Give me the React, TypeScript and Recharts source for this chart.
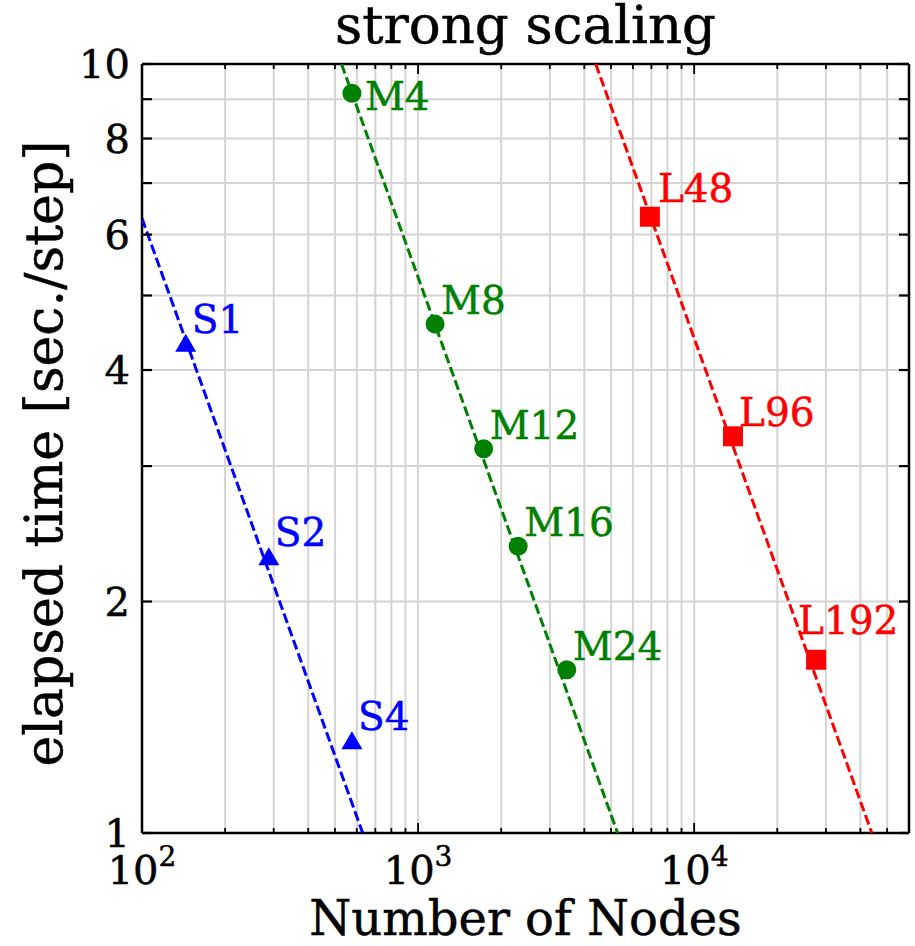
import React from 'react';
import { ScatterChart, Scatter, XAxis, YAxis, CartesianGrid, Label } from 'recharts';

// Measured runs: node count and elapsed seconds per step
const smallNames = ['S1', 'S2', 'S4'];
const smallNodes = [144, 288, 576];
const smallTimes = [4.34, 2.29, 1.32];

const mediumNames = ['M4', 'M8', 'M12', 'M16', 'M24'];
const mediumNodes = [576, 1152, 1728, 2304, 3456];
const mediumTimes = [9.16, 4.59, 3.16, 2.36, 1.63];

const largeNames = ['L48', 'L96', 'L192'];
const largeNodes = [6912, 13824, 27648];
const largeTimes = [6.33, 3.28, 1.68];

// Ideal scaling lines (end points)
const smallIdealNodes = [100, 630];
const smallIdealTimes = [6.3, 1];
const mediumIdealNodes = [528, 5280];
const mediumIdealTimes = [10, 1];
const largeIdealNodes = [4400, 44000];
const largeIdealTimes = [10, 1];

// Axis ticks
const xTicks = [
  100, 200, 300, 400, 500, 600, 700, 800, 900,
  1000, 2000, 3000, 4000, 5000, 6000, 7000, 8000, 9000,
  10000, 20000, 30000, 40000, 50000,
];
const xMajorTicks = [100, 1000, 10000];
const xMajorExponents = ['2', '3', '4'];
const yTicks = [1, 2, 3, 4, 5, 6, 7, 8, 9, 10];
const yLabelledTicks = [1, 2, 4, 6, 8, 10];

const BLUE = '#0000ff';
const GREEN = '#008000';
const RED = '#ff0000';
const FONT = '"DejaVu Serif", serif';

// label placement relative to the marker centre (text origin)
const labelOffset: Record<string, [number, number]> = {
  M4: [13, 17],
  L48: [8, -15],
  L192: [-18, -26],
};
const defaultOffset: [number, number] = [6, -10];

const toPoints = (xs: number[], ys: number[], names?: string[]) =>
  xs.map((x, i) => ({ x, y: ys[i], name: names ? names[i] : '' }));

const makeShape = (kind: 'triangle' | 'circle' | 'square', color: string) => (props: any) => {
  const { cx, cy, payload } = props;
  const [dx, dy] = labelOffset[payload.name] || defaultOffset;
  let marker;
  if (kind === 'triangle') {
    marker = <polygon points={`${cx},${cy - 9} ${cx + 10.5},${cy + 9} ${cx - 10.5},${cy + 9}`} fill={color} />;
  } else if (kind === 'circle') {
    marker = <circle cx={cx} cy={cy} r={9.5} fill={color} />;
  } else {
    marker = <rect x={cx - 10} y={cy - 10} width={20} height={20} fill={color} />;
  }
  return (
    <g>
      {marker}
      <text
        x={cx + dx}
        y={cy + dy}
        fill={color}
        stroke={color}
        strokeWidth={0.5}
        fontFamily={FONT}
        fontSize={39}
      >
        {payload.name}
      </text>
    </g>
  );
};

const NoMarker = () => <g />;

const BottomTick = (props: any) => {
  const { x, y, payload } = props;
  const idx = xMajorTicks.indexOf(payload.value);
  const major = idx >= 0;
  return (
    <g>
      <line x1={x} x2={x} y1={y} y2={y - (major ? 10 : 5)} stroke="#000" strokeWidth={1.8} />
      {major && (
        <text
          x={x}
          y={y + 51}
          textAnchor="middle"
          fontFamily={FONT}
          fontSize={40}
          fill="#000"
          stroke="#000"
          strokeWidth={0.5}
        >
          10
          <tspan dy={-18} fontSize={28}>
            {xMajorExponents[idx]}
          </tspan>
        </text>
      )}
    </g>
  );
};

const TopTick = (props: any) => {
  const { x, y, payload } = props;
  const major = xMajorTicks.includes(payload.value);
  return <line x1={x} x2={x} y1={y} y2={y + (major ? 10 : 5)} stroke="#000" strokeWidth={1.8} />;
};

const LeftTick = (props: any) => {
  const { x, y, payload } = props;
  const show = yLabelledTicks.includes(payload.value);
  return (
    <g>
      <line x1={x} x2={x + 10} y1={y} y2={y} stroke="#000" strokeWidth={2.2} />
      {show && (
        <text
          x={x - 12}
          y={y}
          dy="0.36em"
          textAnchor="end"
          fontFamily={FONT}
          fontSize={40}
          fill="#000"
          stroke="#000"
          strokeWidth={0.5}
        >
          {payload.value}
        </text>
      )}
    </g>
  );
};

const RightTick = (props: any) => {
  const { x, y } = props;
  return <line x1={x} x2={x - 10} y1={y} y2={y} stroke="#000" strokeWidth={2.2} />;
};

const frame = { stroke: '#000', strokeWidth: 2.5 };
const dashed = { strokeWidth: 3, strokeDasharray: '10 4' };

export default function App() {
  return (
    <div style={{ position: 'absolute', left: 0, top: 0, background: '#fff' }}>
      <ScatterChart width={915} height={946} margin={{ top: 63, right: 5, bottom: 0, left: 0 }}>
        <CartesianGrid stroke="#d4d4d4" strokeWidth={2} />
        <XAxis
          dataKey="x"
          type="number"
          scale="log"
          domain={[100, 60000]}
          ticks={xTicks}
          interval={0}
          allowDataOverflow
          height={113}
          tickSize={0}
          tickMargin={0}
          tickLine={false}
          axisLine={frame}
          tick={BottomTick}
        >
          <Label
            content={(p: any) => (
              <text
                x={p.viewBox.x + p.viewBox.width / 2}
                y={p.viewBox.y + 102}
                textAnchor="middle"
                fontFamily={FONT}
                fontSize={48}
                fill="#000"
                stroke="#000"
                strokeWidth={0.5}
              >
                Number of Nodes
              </text>
            )}
          />
        </XAxis>
        {/* mirrored top axis: inward ticks only, carries the title */}
        <XAxis
          xAxisId="top"
          orientation="top"
          dataKey="x"
          type="number"
          scale="log"
          domain={[100, 60000]}
          ticks={xTicks}
          interval={0}
          allowDataOverflow
          height={1}
          tickSize={0}
          tickMargin={0}
          tickLine={false}
          axisLine={frame}
          tick={TopTick}
        >
          <Label
            content={(p: any) => (
              <text
                x={p.viewBox.x + p.viewBox.width / 2}
                y={p.viewBox.y - 20}
                textAnchor="middle"
                fontFamily={FONT}
                fontSize={53}
                fill="#000"
                stroke="#000"
                strokeWidth={0.5}
              >
                strong scaling
              </text>
            )}
          />
        </XAxis>
        <YAxis
          dataKey="y"
          type="number"
          scale="log"
          domain={[1, 10]}
          ticks={yTicks}
          interval={0}
          allowDataOverflow
          width={142}
          tickSize={0}
          tickMargin={0}
          tickLine={false}
          axisLine={frame}
          tick={LeftTick}
        >
          <Label
            content={(p: any) => {
              const cy = p.viewBox.y + p.viewBox.height / 2 + 5;
              return (
                <text
                  x={62}
                  y={cy}
                  transform={`rotate(-90 62 ${cy})`}
                  textAnchor="middle"
                  fontFamily={FONT}
                  fontSize={52}
                  fill="#000"
                  stroke="#000"
                  strokeWidth={0.5}
                >
                  elapsed time [sec./step]
                </text>
              );
            }}
          />
        </YAxis>
        <YAxis
          yAxisId="right"
          orientation="right"
          dataKey="y"
          type="number"
          scale="log"
          domain={[1, 10]}
          ticks={yTicks}
          interval={0}
          allowDataOverflow
          width={1}
          tickSize={0}
          tickMargin={0}
          tickLine={false}
          axisLine={frame}
          tick={RightTick}
        />

        {/* ideal-scaling guides, drawn on the mirrored top/right axes */}
        <Scatter
          xAxisId="top"
          yAxisId="right"
          data={toPoints(smallIdealNodes, smallIdealTimes)}
          line={{ stroke: BLUE, ...dashed }}
          shape={NoMarker}
          isAnimationActive={false}
        />
        <Scatter
          xAxisId="top"
          yAxisId="right"
          data={toPoints(mediumIdealNodes, mediumIdealTimes)}
          line={{ stroke: GREEN, ...dashed }}
          shape={NoMarker}
          isAnimationActive={false}
        />
        <Scatter
          xAxisId="top"
          yAxisId="right"
          data={toPoints(largeIdealNodes, largeIdealTimes)}
          line={{ stroke: RED, ...dashed }}
          shape={NoMarker}
          isAnimationActive={false}
        />

        <Scatter
          data={toPoints(smallNodes, smallTimes, smallNames)}
          shape={makeShape('triangle', BLUE)}
          isAnimationActive={false}
        />
        <Scatter
          data={toPoints(mediumNodes, mediumTimes, mediumNames)}
          shape={makeShape('circle', GREEN)}
          isAnimationActive={false}
        />
        <Scatter
          data={toPoints(largeNodes, largeTimes, largeNames)}
          shape={makeShape('square', RED)}
          isAnimationActive={false}
        />
      </ScatterChart>
    </div>
  );
}
